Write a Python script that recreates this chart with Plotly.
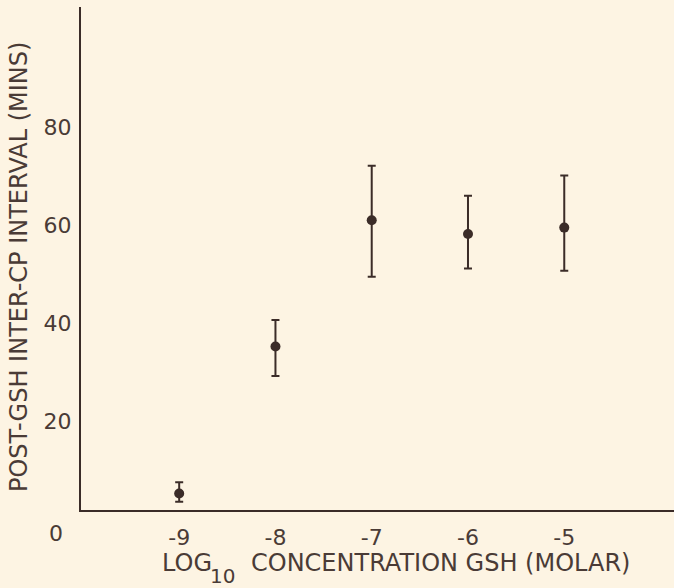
import plotly.graph_objects as go

log_conc = [-9, -8, -7, -6, -5]
mean_interval = [5.4, 35.3, 61.0, 58.2, 59.5]
err_plus = [2.3, 5.4, 11.1, 7.8, 10.6]
err_minus = [1.7, 6.0, 11.5, 7.0, 8.8]
x_ticks = [-9, -8, -7, -6, -5]
x_tick_labels = ["-9", "-8", "-7", "-6", "-5"]
y_ticks = [20, 40, 60, 80]
y_tick_labels = ["20", "40", "60", "80"]

INK = "#3b2c28"
TXT = "#4a3b36"
BG = "#fdf4e3"
FONT = "DejaVu Sans"

W, H = 674, 588
L, R, T, B = 81, 0, 7, 78
pw, ph = W - L - R, H - T - B


def px(xp):
    return (xp - L) / pw


def py(yp):
    return (H - B - yp) / ph


fig = go.Figure()
fig.add_trace(go.Scatter(
    x=log_conc, y=mean_interval, mode="markers",
    marker=dict(size=10, color=INK, symbol="circle"),
    error_y=dict(type="data", symmetric=False, array=err_plus, arrayminus=err_minus,
                 color=INK, thickness=2, width=4),
    showlegend=False, hoverinfo="skip",
))

fig.update_layout(
    width=W, height=H,
    margin=dict(l=L, r=R, t=T, b=B, pad=0),
    paper_bgcolor=BG, plot_bgcolor=BG,
    font=dict(family=FONT, size=22, color=TXT),
    xaxis=dict(range=[-10.02, -3.86], tickvals=x_ticks, ticktext=x_tick_labels,
               showgrid=False, zeroline=False, showline=True, linecolor=INK, linewidth=2,
               ticks="", ticklabelstandoff=7, tickfont=dict(size=22, color=TXT)),
    yaxis=dict(range=[2.03, 104.4], tickvals=y_ticks, ticktext=y_tick_labels,
               showgrid=False, zeroline=False, showline=True, linecolor=INK, linewidth=2,
               ticks="", ticklabelstandoff=3, tickfont=dict(size=22, color=TXT)),
)

ann = dict(xref="paper", yref="paper", showarrow=False)
f22 = dict(family=FONT, size=22, color=TXT)
f24 = dict(family=FONT, size=24, color=TXT)
fig.add_annotation(text="0", x=px(56), y=py(533), xanchor="center", yanchor="middle", font=f22, **ann)
fig.add_annotation(text="LOG", x=px(187), y=py(563), xanchor="center", yanchor="middle", font=f24, **ann)
fig.add_annotation(text="10", x=px(222), y=py(576), xanchor="center", yanchor="middle",
                   font=dict(family=FONT, size=20, color=TXT), **ann)
fig.add_annotation(text="CONCENTRATION GSH (MOLAR)", x=px(440), y=py(563),
                   xanchor="center", yanchor="middle", font=f24, **ann)
fig.add_annotation(text="POST-GSH INTER-CP INTERVAL (MINS)", x=px(19), y=py(267),
                   xanchor="center", yanchor="middle", textangle=-90, font=f24, **ann)

fig.write_html(
    "out.html",
    config={"displayModeBar": False},
    post_script="document.body.style.margin='0';document.body.style.background='" + BG + "';",
)
